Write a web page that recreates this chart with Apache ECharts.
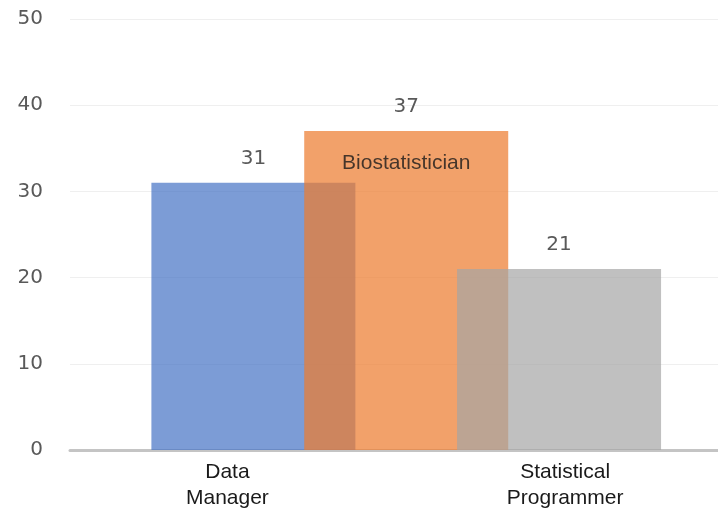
<!DOCTYPE html>
<html>
<head>
<meta charset="utf-8">
<script src="https://cdn.jsdelivr.net/npm/echarts@6/dist/echarts.min.js"></script>
<style>html,body{margin:0;padding:0;background:#fff;}#c{width:718px;height:511px;}</style>
</head>
<body>
<div id="c"></div>
<script>
// Data
var categories = ["Data Manager", "Biostatistician", "Statistical Programmer"];
var values = [31, 37, 21];
var barPositions = [1, 2, 3];
var barColors = ["rgba(68,114,196,0.7)", "rgba(237,125,49,0.72)", "rgba(165,165,165,0.7)"];
// category names written along the x axis (with their positions), and the one written inside its bar
var axisLabelPositions = [0.83, 3.04];
var axisLabelTexts = ["Data\nManager", "Statistical\nProgrammer"];
var insideLabel = [false, true, false];
var yTicks = [0, 10, 20, 30, 40, 50];

var chart = echarts.init(document.getElementById('c'), null, {renderer: 'canvas'});

var barData = values.map(function (v, i) {
  return { value: [barPositions[i], v], name: categories[i], itemStyle: { color: barColors[i] } };
});
var nameData = [];
categories.forEach(function (c, i) {
  if (insideLabel[i]) nameData.push({ value: [barPositions[i], values[i]], name: c });
});

chart.setOption({
  animation: false,
  grid: { left: 70, right: 0, top: 19, bottom: 59, containLabel: false },
  xAxis: {
    type: 'value',
    min: -0.2,
    max: 4.04,
    axisLine: { show: true, lineStyle: { color: '#c4c4c4', width: 3 } },
    axisTick: { show: false },
    splitLine: { show: false },
    axisLabel: {
      customValues: axisLabelPositions,
      formatter: function (v) {
        var idx = axisLabelPositions.indexOf(v);
        return idx >= 0 ? axisLabelTexts[idx] : '';
      },
      color: '#1a1a1a',
      fontFamily: 'Liberation Sans, Arial, sans-serif',
      fontSize: 21,
      lineHeight: 26,
      margin: 9
    }
  },
  yAxis: {
    type: 'value',
    min: yTicks[0],
    max: yTicks[yTicks.length - 1],
    interval: yTicks[1] - yTicks[0],
    axisLine: { show: false },
    axisTick: { show: false },
    splitLine: { show: true, lineStyle: { color: '#efefef', width: 1 } },
    axisLabel: {
      color: '#595959',
      fontFamily: 'DejaVu Sans, sans-serif',
      fontSize: 20,
      margin: 27
    }
  },
  series: [
    {
      type: 'bar',
      data: barData,
      barWidth: 204,
      label: {
        show: true,
        position: 'top',
        distance: 14,
        formatter: function (p) { return p.value[1]; },
        color: '#595959',
        fontFamily: 'DejaVu Sans, sans-serif',
        fontSize: 20
      }
    },
    {
      type: 'scatter',
      data: nameData,
      symbolSize: 0,
      z: 5,
      label: {
        show: true,
        position: 'bottom',
        distance: 22,
        formatter: function (p) { return p.name; },
        color: '#1a1a1a',
        fontFamily: 'Liberation Sans, Arial, sans-serif',
        fontSize: 21
      }
    }
  ]
});
</script>
</body>
</html>
